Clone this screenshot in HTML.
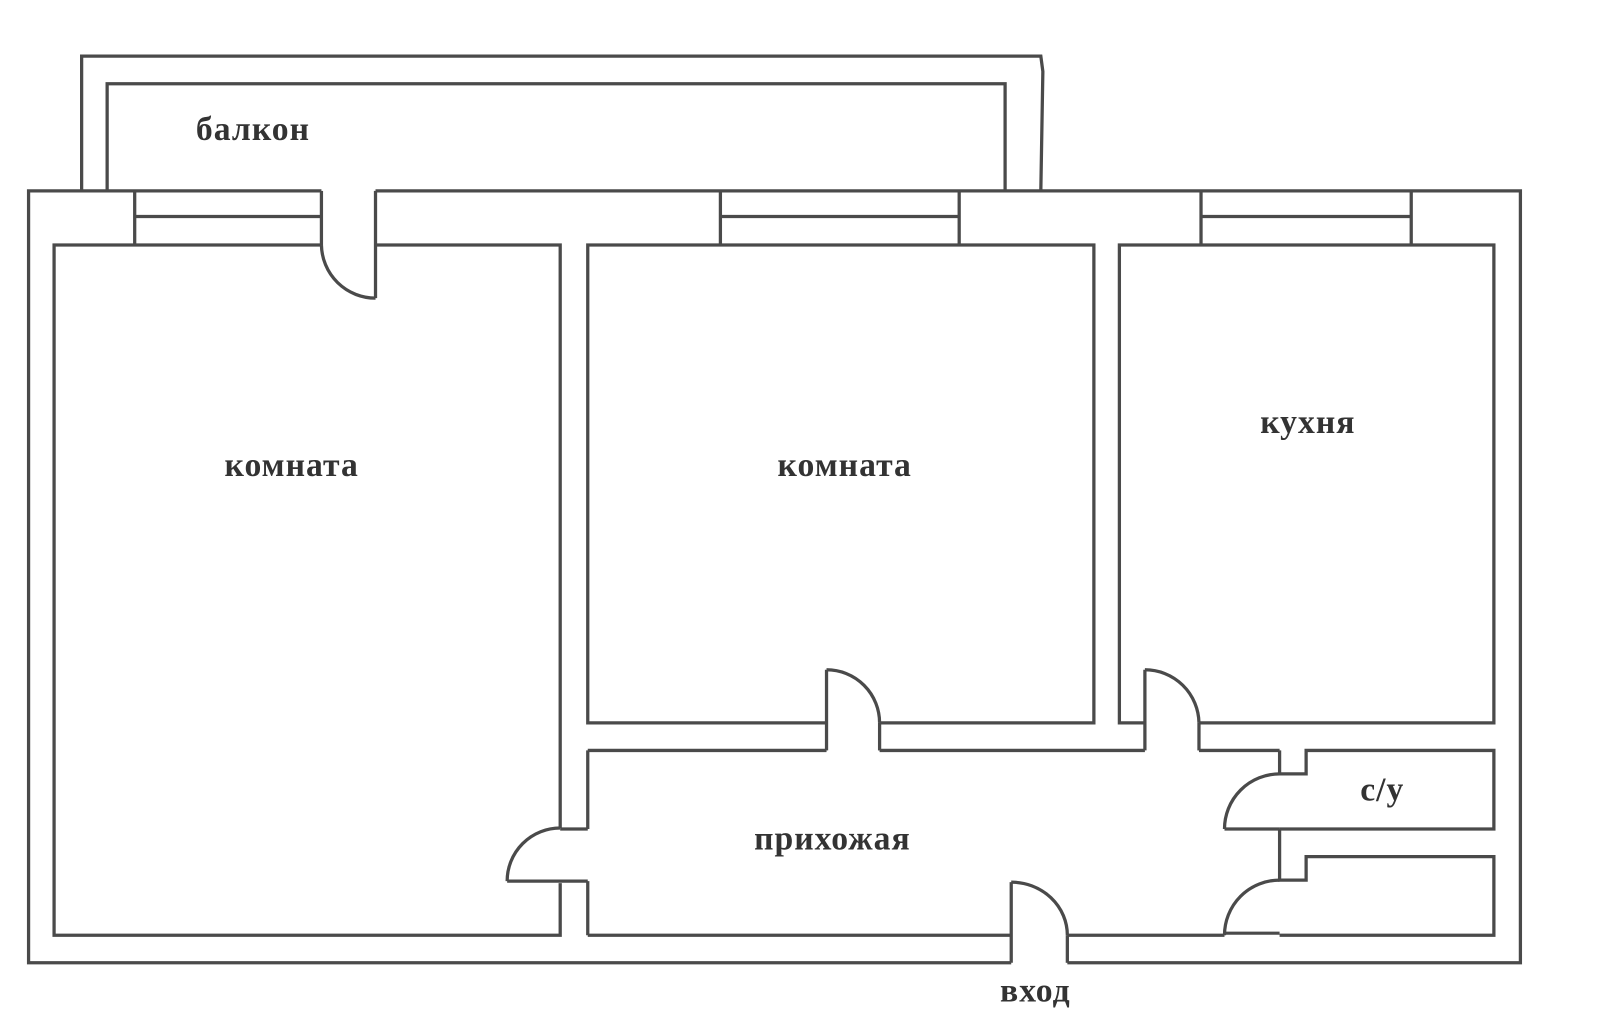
<!DOCTYPE html>
<html><head><meta charset="utf-8"><style>
html,body{margin:0;padding:0;background:#fff}
svg{display:block}
text{font-family:"Liberation Serif",serif;font-weight:bold;font-size:33px;letter-spacing:1px;fill:#333}
</style></head><body>
<svg width="1600" height="1021" viewBox="0 0 1568 1000" preserveAspectRatio="none" xmlns="http://www.w3.org/2000/svg">
<g fill="none" stroke="#4a4a4a" stroke-width="3.2" stroke-linejoin="miter">
<polyline points="80,187 80,55 1020,55 1022,70 1020,187"/>
<polyline points="105,187 105,82 985,82 985,187"/>
<polyline points="315,187 28,187 28,943 991,943"/>
<polyline points="368,187 1490,187 1490,943 1046,943"/>
<line x1="315" y1="187" x2="315" y2="240"/>
<line x1="368" y1="187" x2="368" y2="292"/>
<path d="M315,240 A53,53 0 0 0 368,292"/>
<line x1="132" y1="212" x2="315" y2="212"/>
<line x1="132" y1="187" x2="132" y2="240"/>
<line x1="706" y1="212" x2="940" y2="212"/>
<line x1="706" y1="187" x2="706" y2="240"/>
<line x1="940" y1="187" x2="940" y2="240"/>
<line x1="1177" y1="212" x2="1383" y2="212"/>
<line x1="1177" y1="187" x2="1177" y2="240"/>
<line x1="1383" y1="187" x2="1383" y2="240"/>
<polyline points="315,240 53,240 53,916 549,916 549,865"/>
<polyline points="368,240 549,240 549,811"/>
<line x1="549" y1="812" x2="576" y2="812"/>
<line x1="497" y1="863" x2="576" y2="863"/>
<path d="M549,811 A52,52 0 0 0 497,863"/>
<line x1="576" y1="735" x2="576" y2="812"/>
<line x1="576" y1="863" x2="576" y2="916"/>
<polyline points="810,708 576,708 576,240 1072,240 1072,708 862,708"/>
<line x1="810" y1="656" x2="810" y2="735"/>
<line x1="862" y1="708" x2="862" y2="735"/>
<path d="M810,656 A52,52 0 0 1 862,708"/>
<polyline points="1122,708 1097,708 1097,240 1464,240 1464,708 1175,708"/>
<line x1="1122" y1="656" x2="1122" y2="735"/>
<line x1="1175" y1="708" x2="1175" y2="735"/>
<path d="M1122,656 A53,53 0 0 1 1175,708"/>
<line x1="576" y1="735" x2="810" y2="735"/>
<line x1="862" y1="735" x2="1122" y2="735"/>
<line x1="1175" y1="735" x2="1254" y2="735"/>
<polyline points="1254,735 1254,758 1280,758 1280,735 1464,735 1464,812 1254,812"/>
<path d="M1254,758 A54,54 0 0 0 1200,812"/>
<line x1="1200" y1="812" x2="1254" y2="812"/>
<polyline points="1254,812 1254,862 1280,862 1280,839 1464,839 1464,916 1254,916"/>
<path d="M1254,862 A54,54 0 0 0 1200,916"/>
<line x1="1200" y1="914" x2="1254" y2="914" stroke-width="3"/>
<line x1="1200" y1="916" x2="1046" y2="916"/>
<line x1="1046" y1="916" x2="1046" y2="943"/>
<line x1="991" y1="864" x2="991" y2="943"/>
<path d="M991,864 A55,52 0 0 1 1046,916"/>
<line x1="991" y1="916" x2="576" y2="916"/>
</g>
<text x="192" y="137">балкон</text>
<text x="220" y="466">комната</text>
<text x="762" y="466">комната</text>
<text x="1235" y="424">кухня</text>
<text x="739" y="832">прихожая</text>
<text x="1333" y="784">с/у</text>
<text x="980" y="981">вход</text>
</svg>
</body></html>
